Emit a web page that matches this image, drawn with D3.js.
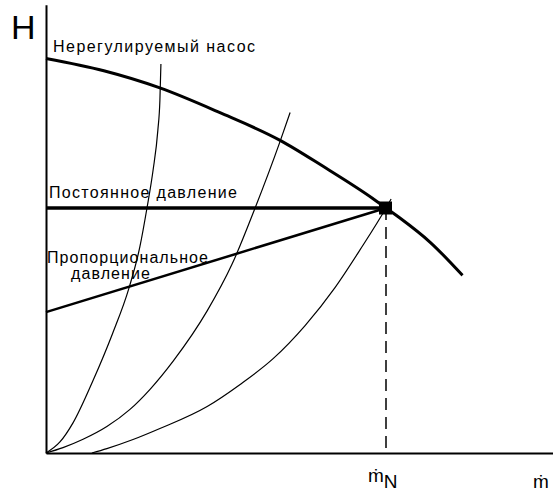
<!DOCTYPE html>
<html>
<head>
<meta charset="utf-8">
<script src="https://cdn.jsdelivr.net/npm/d3@7"></script>
<style>
  body { margin: 0; background: #fff; }
  svg text { font-family: "Liberation Sans", Arial, sans-serif; fill: #000; }
</style>
</head>
<body>
<div class="chart"></div>
<script>
// flow Q (m_N = 100) and head H (operating point = 100)
let pumpQ = [0, 17, 33.5, 51, 69, 81.5, 96, 100, 104, 113, 122.5];
let pumpH = [161, 156, 149, 139, 127.5, 117, 104, 100, 96, 86, 72.5];

let sys1Q = [0, 4.1, 7.9, 13.8, 19.5, 24.4, 27.6, 29.7, 31.5, 32.9, 33.5, 33.8];
let sys1H = [0, 4.5, 12.2, 29.5, 48.5, 67.3, 84.1, 100, 115.5, 131.8, 144, 158.8];

let sys2Q = [0, 5, 10.9, 17.9, 24.7, 30.6, 37.4, 47.4, 54.7, 61.5, 68.8, 71.8];
let sys2H = [0, 2.2, 5.6, 10.8, 17.8, 26, 37.5, 58, 77, 100, 127, 139];

let sys3Q = [13.5, 17.9, 25.6, 33.5, 47.4, 57.1, 66.8, 76.2, 85, 92.4, 100, 101.5];
let sys3H = [0, 1.8, 5.5, 10, 19, 28, 38.5, 52, 67.5, 83, 100, 103.7];

let constQ = [0, 100];
let constH = [100, 100];
let propQ = [0, 100];
let propH = [57.5, 100];

let nominalQ = 100;
let nominalH = 100;

let labels = {
    pump: 'Нерегулируемый насос',
    constant: 'Постоянное давление',
    prop1: 'Пропорциональное',
    prop2: 'давление'
};

function drawChart() {
    let svg = d3.select('.chart')
        .append('svg')
        .attr('width', 553)
        .attr('height', 493);

    let x = d3.scaleLinear().domain([0, 149]).range([46, 46 + 149 * 3.4]);
    let y = d3.scaleLinear().domain([0, 183]).range([453, 453 - 183 * 2.45]);

    let zip = (qs, hs) => qs.map((q, i) => [q, hs[i]]);
    let line = d3.line()
        .x(d => x(d[0]))
        .y(d => y(d[1]))
        .curve(d3.curveMonotoneX);

    // axes without ticks
    svg.append('g')
        .attr('transform', 'translate(0,' + y(0) + ')')
        .call(d3.axisBottom(x).tickValues([]).tickSizeOuter(0))
        .select('.domain')
        .attr('stroke', '#000')
        .attr('stroke-width', 2);
    svg.append('g')
        .attr('transform', 'translate(' + x(0) + ',0)')
        .call(d3.axisLeft(y).tickValues([]).tickSizeOuter(0))
        .select('.domain')
        .attr('stroke', '#000')
        .attr('stroke-width', 2);

    // system curves
    [[sys1Q, sys1H], [sys2Q, sys2H], [sys3Q, sys3H]].forEach(s => {
        svg.append('path')
            .attr('d', line(zip(s[0], s[1])))
            .attr('fill', 'none')
            .attr('stroke', '#000')
            .attr('stroke-width', 1.2);
    });

    // nominal flow marker
    svg.append('line')
        .attr('x1', x(nominalQ)).attr('x2', x(nominalQ))
        .attr('y1', y(nominalH)).attr('y2', y(0))
        .attr('stroke', '#000')
        .attr('stroke-width', 1.5)
        .attr('stroke-dasharray', '12,7');

    // control lines
    svg.append('path')
        .attr('d', d3.line().x(d => x(d[0])).y(d => y(d[1]))(zip(constQ, constH)))
        .attr('stroke', '#000')
        .attr('stroke-width', 3.5);
    svg.append('path')
        .attr('d', d3.line().x(d => x(d[0])).y(d => y(d[1]))(zip(propQ, propH)))
        .attr('stroke', '#000')
        .attr('stroke-width', 2.5);

    // pump curve
    svg.append('path')
        .attr('d', line(zip(pumpQ, pumpH)))
        .attr('fill', 'none')
        .attr('stroke', '#000')
        .attr('stroke-width', 3);

    svg.append('rect')
        .attr('x', x(nominalQ) - 7)
        .attr('y', y(nominalH) - 6.5)
        .attr('width', 13)
        .attr('height', 13)
        .attr('fill', '#000');

    // labels
    svg.append('text').attr('x', 11).attr('y', 39)
        .style('font-size', '34px').text('H');

    let label = (t, lx, ly, len) => svg.append('text')
        .attr('x', lx).attr('y', ly)
        .attr('textLength', len)
        .attr('lengthAdjust', 'spacing')
        .style('font-size', '16px')
        .text(t);
    label(labels.pump, 53, 52, 202);
    label(labels.constant, 49, 198, 188);
    label(labels.prop1, 47, 263, 161);
    label(labels.prop2, 71, 279, 79);

    let mn = svg.append('text')
        .attr('x', x(nominalQ) - 18)
        .attr('y', 482)
        .style('font-size', '19px');
    mn.append('tspan').text('ṁ');
    mn.append('tspan').attr('dy', 6).text('N');

    svg.append('text')
        .attr('x', 533)
        .attr('y', 488)
        .style('font-size', '19px')
        .text('ṁ');
}

drawChart();
</script>
</body>
</html>
